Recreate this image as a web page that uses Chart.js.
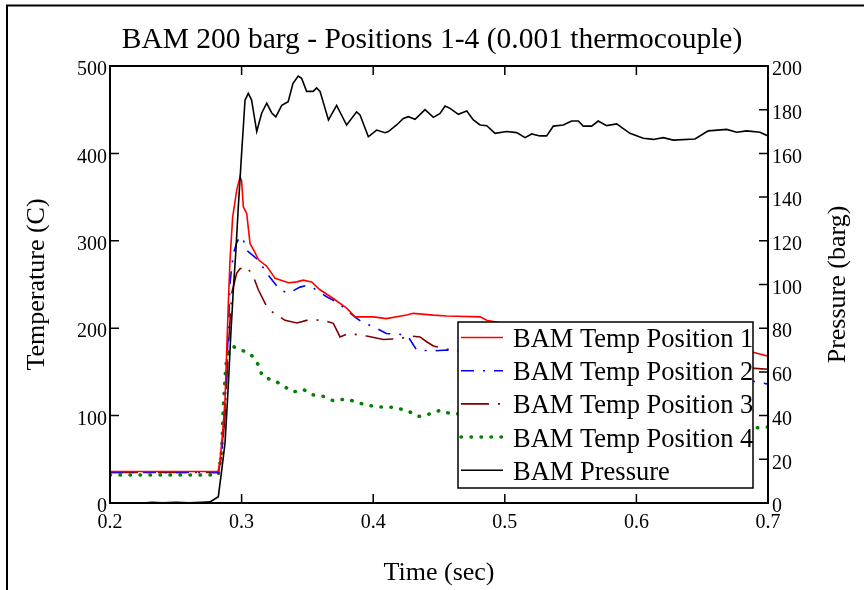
<!DOCTYPE html>
<html>
<head>
<meta charset="utf-8">
<script src="https://cdn.jsdelivr.net/npm/chart.js@4.4.1/dist/chart.umd.min.js"></script>
<style>
  body { margin: 0; background: #fff; }
</style>
</head>
<body>
<canvas id="chart" width="864" height="590"></canvas>
<script>
// Values
const timeP = [0.200, 0.225, 0.232, 0.240, 0.250, 0.260, 0.270, 0.276, 0.2823, 0.2849, 0.2874, 0.2887, 0.2900, 0.2917, 0.2937, 0.2957, 0.2975, 0.2988, 0.3000, 0.3013, 0.3026, 0.3051, 0.3076, 0.3115, 0.3153, 0.3191, 0.3229, 0.3260, 0.3305, 0.3354, 0.3390, 0.3430, 0.3456, 0.3494, 0.3544, 0.3570, 0.3596, 0.3660, 0.3722, 0.3798, 0.3874, 0.3900, 0.3963, 0.4026, 0.4090, 0.4115, 0.4178, 0.4229, 0.4267, 0.4318, 0.4394, 0.4457, 0.4508, 0.4546, 0.4584, 0.4647, 0.4711, 0.4761, 0.4812, 0.4863, 0.4926, 0.5015, 0.5090, 0.5154, 0.5204, 0.5267, 0.5318, 0.5369, 0.5444, 0.5508, 0.5559, 0.5596, 0.5660, 0.5710, 0.5774, 0.5850, 0.5951, 0.6052, 0.6128, 0.6204, 0.6280, 0.6445, 0.6546, 0.6686, 0.6762, 0.6838, 0.6939, 0.7000];
const pressure = [0, 0, 0.3, 0.1, 0.3, 0.1, 0.3, 0.5, 2.9, 15, 27.5, 41, 55, 76, 97.5, 115.8, 135.6, 148, 160, 172, 184.4, 187.5, 184.4, 170, 178.5, 183, 178.5, 176.7, 182, 183.7, 192, 195.4, 194.4, 188.4, 188.4, 190, 188.4, 175.3, 182, 173, 179, 177.6, 167.6, 170.7, 169.5, 170, 173, 176, 176.8, 175.6, 180, 176.5, 178.3, 181.7, 180.6, 177.9, 179.4, 175.3, 173, 172.7, 169.2, 170, 169.5, 167.2, 168.9, 168, 168, 172.5, 173, 174.8, 174.8, 172.5, 172.5, 174.8, 172.7, 173.5, 169.2, 166.9, 166.4, 167.2, 166.1, 166.6, 170.3, 171, 169.7, 170.3, 169.7, 168];

const timeT1 = [0.200, 0.2823, 0.2836, 0.2856, 0.2874, 0.2887, 0.2900, 0.2912, 0.2932, 0.2963, 0.2988, 0.3000, 0.3013, 0.3039, 0.3064, 0.3100, 0.3130, 0.3190, 0.3255, 0.3356, 0.3420, 0.3468, 0.3532, 0.3596, 0.3697, 0.3798, 0.3862, 0.4000, 0.4100, 0.4254, 0.4305, 0.4457, 0.4560, 0.4812, 0.4863, 0.5000, 0.5500, 0.6000, 0.6500, 0.6850, 0.6900, 0.7000];
const temp1 = [36, 36, 49, 80, 118, 175, 232, 278, 327, 358, 373, 369, 339, 331, 297, 287, 278, 271, 257, 252, 253, 255, 253, 244, 234, 223, 213, 213, 211, 215, 217, 215, 214, 213, 209, 205, 198, 190, 180, 174, 172, 168];

const timeT2 = [0.200, 0.2823, 0.2849, 0.2874, 0.2900, 0.2912, 0.2937, 0.2963, 0.2988, 0.3008, 0.3040, 0.3127, 0.3190, 0.3290, 0.3355, 0.3444, 0.3494, 0.3545, 0.3646, 0.3722, 0.3798, 0.3850, 0.3925, 0.4000, 0.4100, 0.4204, 0.4267, 0.4330, 0.4457, 0.4560, 0.5000, 0.5500, 0.6000, 0.6500, 0.6900, 0.7000];
const temp2 = [35, 35, 60, 110, 200, 252, 285, 298, 305, 303, 289, 278, 263, 244, 240, 247, 249, 246, 236, 230, 221, 214, 206, 202, 194, 193, 190, 175, 174, 175, 168, 160, 152, 145, 139, 136];

const timeT3 = [0.200, 0.2823, 0.2849, 0.2874, 0.2900, 0.2925, 0.2963, 0.2988, 0.3040, 0.3090, 0.3127, 0.3190, 0.3229, 0.3290, 0.3330, 0.3420, 0.3520, 0.3634, 0.3697, 0.3748, 0.3811, 0.3950, 0.4077, 0.4204, 0.4280, 0.4356, 0.4406, 0.4457, 0.4560, 0.5000, 0.5500, 0.6000, 0.6500, 0.6900, 0.7000];
const temp3 = [35, 35, 55, 100, 180, 240, 263, 268, 270, 259, 244, 225, 219, 213, 209, 206, 210, 208.6, 205.6, 190, 194, 191, 187, 188, 191, 190, 184.5, 179.6, 176, 172, 166, 161, 157, 154, 153];

const timeT4 = [0.200, 0.2823, 0.2849, 0.2860, 0.2874, 0.2887, 0.2912, 0.2937, 0.2988, 0.3039, 0.3090, 0.3127, 0.3153, 0.3179, 0.3240, 0.3317, 0.3393, 0.3469, 0.3532, 0.3620, 0.3697, 0.3798, 0.3925, 0.4026, 0.4153, 0.4254, 0.4343, 0.4432, 0.4508, 0.4571, 0.5000, 0.5500, 0.6000, 0.6500, 0.6900, 0.7000];
const temp4 = [32, 32, 60, 106, 144, 167, 175, 179, 175, 173, 167, 158, 147, 143, 141, 134, 127, 130, 124, 122, 117, 119, 113, 110, 109.5, 106, 99, 102, 106, 103, 97, 93, 90, 87, 86, 87];

const timeTicks = [0.2, 0.3, 0.4, 0.5, 0.6, 0.7];
const tempTicks = [0, 100, 200, 300, 400, 500];
const pressureTicks = [0, 20, 40, 60, 80, 100, 120, 140, 160, 180, 200];
const seriesNames = ['BAM Temp Position 1', 'BAM Temp Position 2', 'BAM Temp Position 3', 'BAM Temp Position 4', 'BAM Pressure'];

const SERIF = "'Liberation Serif', 'Times New Roman', serif";
const pts = (ts, vs) => ts.map((t, i) => ({ x: t, y: vs[i] }));
const useTicks = list => scale => { scale.ticks = list.map(v => ({ value: v })); };

// frame, inward ticks, boxed legend and right-hand title
const decorations = {
    id: 'decorations',
    afterDatasetsDraw(chart) {
        const { ctx, chartArea: a, scales } = chart;
        ctx.save();
        ctx.strokeStyle = '#000';
        ctx.lineWidth = 2;
        ctx.strokeRect(a.left, a.top, a.right - a.left, a.bottom - a.top);

        ctx.lineWidth = 1.5;
        const len = 9;
        ctx.beginPath();
        timeTicks.forEach(v => {
            const x = scales.x.getPixelForValue(v);
            ctx.moveTo(x, a.bottom); ctx.lineTo(x, a.bottom - len);
            ctx.moveTo(x, a.top); ctx.lineTo(x, a.top + len);
        });
        tempTicks.forEach(v => {
            const y = scales.y.getPixelForValue(v);
            ctx.moveTo(a.left, y); ctx.lineTo(a.left + len, y);
        });
        pressureTicks.forEach(v => {
            const y = scales.y1.getPixelForValue(v);
            ctx.moveTo(a.right, y); ctx.lineTo(a.right - len, y);
        });
        ctx.stroke();

        // legend box
        const box = { left: 458, top: 322, right: 753, bottom: 488 };
        ctx.fillStyle = '#fff';
        ctx.fillRect(box.left, box.top, box.right - box.left, box.bottom - box.top);
        ctx.lineWidth = 1.5;
        ctx.strokeRect(box.left, box.top, box.right - box.left, box.bottom - box.top);
        ctx.font = '26.5px ' + SERIF;
        ctx.textBaseline = 'alphabetic';
        ctx.textAlign = 'left';
        chart.data.datasets.forEach((ds, i) => {
            const y = 337.5 + i * 33.2;
            ctx.save();
            ctx.strokeStyle = ds.borderColor;
            ctx.lineWidth = ds.borderWidth;
            ctx.lineCap = ds.borderCapStyle || 'butt';
            ctx.setLineDash(ds.borderDash || []);
            ctx.beginPath();
            ctx.moveTo(461, y); ctx.lineTo(503, y);
            ctx.stroke();
            ctx.restore();
            ctx.fillStyle = '#000';
            ctx.fillText(ds.label, 513, y + 9.5);
        });
        ctx.restore();
    },
    afterDraw(chart) {
        const { ctx, chartArea: a } = chart;
        ctx.save();
        ctx.strokeStyle = '#000';
        ctx.lineWidth = 2;
        ctx.beginPath();
        ctx.moveTo(7, 590); ctx.lineTo(7, 5.5); ctx.lineTo(864, 5.5);
        ctx.stroke();
        ctx.translate(838, (a.top + a.bottom) / 2);
        ctx.rotate(-Math.PI / 2);
        ctx.fillStyle = '#000';
        ctx.font = '26px ' + SERIF;
        ctx.textAlign = 'center';
        ctx.textBaseline = 'middle';
        ctx.fillText('Pressure (barg)', 0, 0);
        ctx.restore();
    }
};

const tickFont = { family: SERIF, size: 20 };
const titleFont = { family: SERIF, size: 26 };

new Chart(document.getElementById('chart'), {
    type: 'line',
    data: {
        datasets: [
            { label: seriesNames[0], data: pts(timeT1, temp1), yAxisID: 'y', borderColor: '#ff0000', borderWidth: 1.6 },
            { label: seriesNames[1], data: pts(timeT2, temp2), yAxisID: 'y', borderColor: '#0000ff', borderWidth: 1.6, borderDash: [13, 9, 2, 9] },
            { label: seriesNames[2], data: pts(timeT3, temp3), yAxisID: 'y', borderColor: '#800000', borderWidth: 1.6, borderDash: [28, 9, 2, 9] },
            { label: seriesNames[3], data: pts(timeT4, temp4), yAxisID: 'y', borderColor: '#008000', borderWidth: 3.5, borderDash: [0.5, 9.5], borderCapStyle: 'round' },
            { label: seriesNames[4], data: pts(timeP, pressure), yAxisID: 'y1', borderColor: '#000000', borderWidth: 1.6, order: -1 }
        ]
    },
    options: {
        responsive: false,
        animation: false,
        layout: { padding: 0 },
        elements: { point: { radius: 0 }, line: { tension: 0 } },
        plugins: {
            legend: { display: false },
            tooltip: { enabled: false },
            title: {
                display: true,
                text: 'BAM 200 barg - Positions 1-4 (0.001 thermocouple)',
                color: '#000',
                font: { family: SERIF, size: 29.5, weight: 'normal' },
                padding: { top: 23, bottom: 7.6 }
            }
        },
        scales: {
            x: {
                type: 'linear', min: 0.2, max: 0.7,
                afterBuildTicks: useTicks(timeTicks),
                afterFit: s => { s.height = 87; },
                grid: { display: false, drawTicks: false },
                border: { display: false },
                ticks: { color: '#000', font: tickFont, padding: 8, callback: v => v.toFixed(1) },
                title: { display: true, text: 'Time (sec)', color: '#000', font: titleFont, padding: { top: 0, bottom: 1 } }
            },
            y: {
                position: 'left', min: 0, max: 500,
                afterBuildTicks: useTicks(tempTicks),
                afterFit: s => { s.width = 110; },
                grid: { display: false, drawTicks: false },
                border: { display: false },
                ticks: { color: '#000', font: tickFont, padding: 3, labelOffset: 4 },
                title: { display: true, text: 'Temperature (C)', color: '#000', font: titleFont, padding: { top: 22, bottom: 0 } }
            },
            y1: {
                position: 'right', min: 0, max: 200,
                afterBuildTicks: useTicks(pressureTicks),
                afterFit: s => { s.width = 96; },
                grid: { display: false, drawTicks: false },
                border: { display: false },
                ticks: { color: '#000', font: tickFont, padding: 4, labelOffset: 4 }
            }
        }
    },
    plugins: [decorations]
});
</script>
</body>
</html>
